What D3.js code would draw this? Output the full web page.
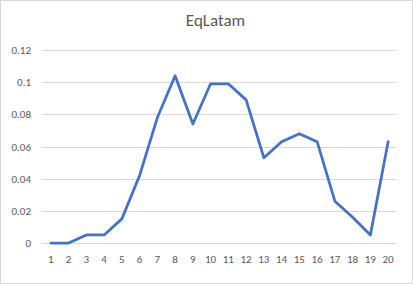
<!DOCTYPE html>
<html>
<head>
<meta charset="utf-8">
<script src="https://cdn.jsdelivr.net/npm/d3@7"></script>
<style>
  body { margin: 0; background: #fff; }
  text { font-family: Calibri, Carlito, "Open Sans", sans-serif; fill: #595959; }
</style>
</head>
<body>
<div id="chart"></div>
<script>
// DATA
const title = "EqLatam";
const categories = d3.range(1, 21);
const values = [0, 0, 0.005, 0.005, 0.015, 0.042, 0.078, 0.104, 0.074, 0.099, 0.099, 0.089,
  0.053, 0.063, 0.068, 0.063, 0.026, 0.016, 0.005, 0.063];
const yTicks = [0, 0.02, 0.04, 0.06, 0.08, 0.1, 0.12];

const width = 413,
  height = 284,
  margin = { top: 50, bottom: 41, left: 42, right: 16 };

const svg = d3.select("#chart")
  .append("svg")
  .attr("width", width)
  .attr("height", height);

// chart border
svg.append("rect")
  .attr("x", 0.5).attr("y", 0.5)
  .attr("width", width - 1).attr("height", height - 1)
  .attr("fill", "#fff")
  .attr("stroke", "#d9d9d9");

// SCALES
const xScale = d3.scaleBand()
  .domain(categories)
  .range([margin.left, width - margin.right]);

const yScale = d3.scaleLinear()
  .domain([0, 0.12])
  .range([height - margin.bottom, margin.top]);

// gridlines
svg.append("g")
  .selectAll("line")
  .data(yTicks)
  .join("line")
  .attr("x1", margin.left)
  .attr("x2", width - margin.right)
  .attr("y1", d => Math.round(yScale(d)) + 0.5)
  .attr("y2", d => Math.round(yScale(d)) + 0.5)
  .attr("stroke", "#d9d9d9")
  .attr("stroke-width", 1);

// y axis labels
const yAxis = d3.axisLeft(yScale)
  .tickValues(yTicks)
  .tickSize(0)
  .tickPadding(11)
  .tickFormat(d => d3.format("")(+d.toFixed(2)));

svg.append("g")
  .attr("transform", `translate(${margin.left},0)`)
  .call(yAxis)
  .call(g => g.select(".domain").remove())
  .selectAll("text")
  .attr("font-size", "11px")
  .attr("fill", "#595959");

// x axis labels
const xAxis = d3.axisBottom(xScale).tickSize(0).tickPadding(12);

svg.append("g")
  .attr("transform", `translate(0,${height - margin.bottom})`)
  .call(xAxis)
  .call(g => g.select(".domain").remove())
  .selectAll("text")
  .attr("font-size", "11px")
  .attr("fill", "#595959");

// title
svg.append("text")
  .attr("x", width / 2 + 9)
  .attr("y", 26)
  .attr("text-anchor", "middle")
  .attr("font-size", "17px")
  .text(title);

// line
const lineFunc = d3.line()
  .x((d, i) => xScale(categories[i]) + xScale.bandwidth() / 2)
  .y(d => yScale(d));

svg.append("path")
  .datum(values)
  .attr("fill", "none")
  .attr("stroke", "#4472C4")
  .attr("stroke-width", 2.75)
  .attr("stroke-linejoin", "round")
  .attr("stroke-linecap", "round")
  .attr("d", lineFunc);
</script>
</body>
</html>
